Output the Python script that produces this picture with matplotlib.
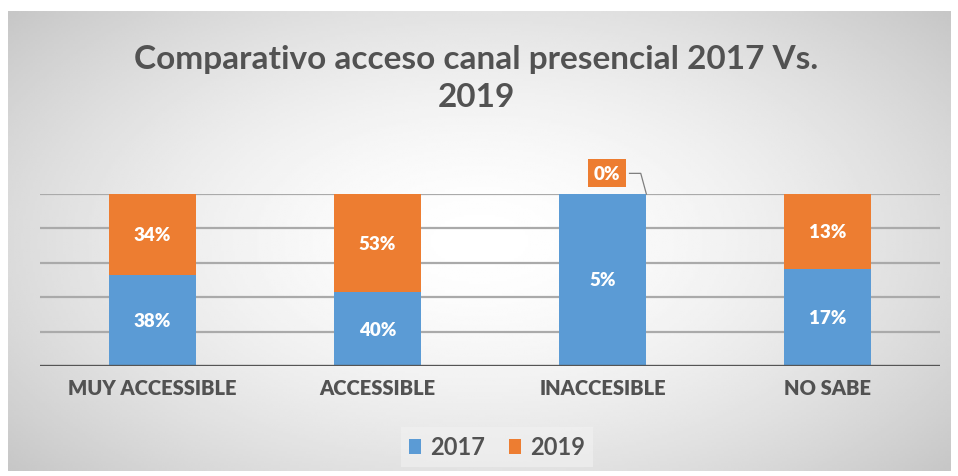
import numpy as np
import matplotlib.pyplot as plt

categorias = ['MUY ACCESSIBLE', 'ACCESSIBLE', 'INACCESIBLE', 'NO SABE']
v2017 = [38, 40, 5, 17]
v2019 = [34, 53, 0, 13]
series = ['2017', '2019']

azul = '#5B9BD5'
naranja = '#ED7D31'
texto = '#525252'
plt.rcParams['font.family'] = ['Lato', 'DejaVu Sans']

fig = plt.figure(figsize=(9.58, 4.77), dpi=100)
fig.patch.set_facecolor('white')

# fondo con degradado radial (claro al centro, gris en bordes)
bg = fig.add_axes([8/958, 5/477, 942/958, 460/477])
yy, xx = np.mgrid[-1:1:200j, -1:1:400j]
r = np.sqrt(xx**2 * 0.8 + yy**2 * 0.6)
bg.imshow(1 - 0.17 * np.clip(r, 0, 1.3) ** 1.6, cmap='gray', vmin=0, vmax=1,
          aspect='auto', extent=[0, 1, 0, 1])
bg.set_axis_off()

ax = fig.add_axes([40/958, 110/477, 900/958, 172/477])
ax.patch.set_alpha(0)

a = np.array(v2017, dtype=float)
b = np.array(v2019, dtype=float)
tot = a + b
s17 = a / tot
s19 = b / tot
x = np.arange(len(categorias))
w = 0.39

for y in [0.2, 0.4, 0.6, 0.8, 1.0]:
    ax.axhline(y, color='#aaaaaa', lw=1.6, zorder=0)
ax.axhline(0, color='#555555', lw=2.4, zorder=3)

ax.bar(x, s17, w, color=azul, zorder=2, label=series[0])
ax.bar(x, s19, w, bottom=s17, color=naranja, zorder=2, label=series[1])

for i in range(len(categorias)):
    ax.text(x[i], s17[i] / 2, f'{v2017[i]}%', color='white', fontsize=13.5,
            fontweight='heavy', ha='center', va='center', zorder=4)
    if s19[i] > 0:
        ax.text(x[i], s17[i] + s19[i] / 2, f'{v2019[i]}%', color='white', fontsize=13.5,
                fontweight='heavy', ha='center', va='center', zorder=4)
    else:
        # etiqueta fuera de la barra con línea guía
        ly = 1.0 + 0.12
        ax.text(x[i] + 0.02, ly, f'{v2019[i]}%', color='white', fontsize=13.5,
                fontweight='heavy', ha='center', va='center', zorder=5,
                bbox=dict(boxstyle='square,pad=0.3', fc=naranja, ec='none'),
                clip_on=False)
        ax.plot([x[i] + 0.12, x[i] + 0.17, x[i] + w / 2],
                [ly, ly, 1.0], color='#7f7f7f', lw=0.9, zorder=4, clip_on=False)

ax.set_xlim(-0.5, 3.5)
ax.set_ylim(0, 1)
ax.set_xticks(x)
ax.set_xticklabels(categorias, fontsize=14.5, fontweight='heavy', color=texto)
ax.tick_params(axis='x', length=0, pad=9)
ax.set_yticks([])
for s in ax.spines.values():
    s.set_visible(False)

fig.text(0.497, 0.835, 'Comparativo acceso canal presencial 2017 Vs.\n2019',
         ha='center', va='center', fontsize=24, fontweight='bold', color=texto,
         linespacing=1.38)

leg = ax.legend(loc='center', bbox_to_anchor=(0.508, -0.47), ncol=2, frameon=True,
                handlelength=0.5, handleheight=0.6, handletextpad=0.4,
                columnspacing=1.0, prop={'size': 17, 'weight': 'bold'},
                fancybox=False, borderpad=0.35)
leg.get_frame().set_facecolor('#f2f2f2')
leg.get_frame().set_edgecolor('none')
leg.get_frame().set_alpha(0.6)
for t in leg.get_texts():
    t.set_color(texto)

fig.savefig('out.png', dpi=100)
